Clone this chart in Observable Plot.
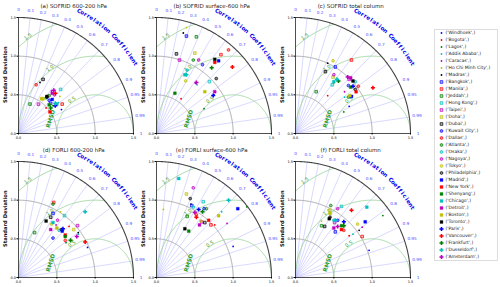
<!DOCTYPE html>
<html><head><meta charset="utf-8">
<script src="https://cdn.jsdelivr.net/npm/d3@7"></script>
<script src="https://cdn.jsdelivr.net/npm/@observablehq/plot@0.6"></script>
<style>
body{margin:0;background:#fff;}
#chart{position:relative;width:500px;height:287px;overflow:hidden;font-family:"DejaVu Sans",sans-serif;background:#fff;}
#chart svg{position:absolute;overflow:visible;}
</style></head><body><div id="chart"></div>
<script>
const cities = ["Windhoek","Bogota","Lagos","Addis Ababa","Caracas","Ho Chi Minh City","Madras",
  "Bangkok","Manila","Jeddah","Hong Kong","Taipei","Doha","Dubai",
  "Kuwait City","Dallas","Atlanta","Osaka","Nagoya","Tokyo","Philadelphia",
  "Madrid","New York","Shenyang","Chicago","Detroit","Boston","Toronto",
  "Paris","Vancouver","Frankfurt","Dusseldorf","Amsterdam"];
const colors = ["#0000ff","#ff0000","#008000","#00bfbf","#bf00bf","#bfbf00","#000000"];
const titles = ["(a) SOFRID 600-200 hPa","(b) SOFRID surface-600 hPa","(c) SOFRID total column",
  "(d) FORLI 600-200 hPa","(e) FORLI surface-600 hPa","(f) FORLI total column"];

const stdA = [.640,.488,.576,.656,.698,.722,.717,.573,.685,.409,.792,.460,.546,.770,.587,.671,.633,.584,.686,.558,.598,.622,.496,.545,.628,.681,.541,.606,.600,.708,.534,.618,.725];
const corrA = [.875,.737,.781,.793,.616,.748,.391,.733,.832,.367,.694,.565,.568,.416,.681,.343,.632,.616,.685,.591,.619,.707,.826,.734,.796,.646,.555,.611,.800,.678,.786,.776,.635];
const stdB = [.901,.552,.698,.823,.826,1.424,1.346,1.319,1.321,1.354,.962,.996,1.154,1.062,1.073,1.432,1.064,.912,1.098,.779,1.055,1.241,1.193,.573,.845,.932,.830,1.224,.888,1.311,1.114,.854,.840];
const corrB = [.832,.580,.888,.644,.617,.274,.260,.296,.636,.384,.717,.301,.433,.245,.559,.656,.451,.438,.501,.488,.739,.653,.637,.419,.438,.815,.759,.621,.833,.755,.646,.457,.619];
const stdC = [.783,.645,.689,.794,.837,.820,1.002,1.005,1.198,.604,.792,.990,.879,.890,.928,1.022,.835,1.028,.910,1.060,.966,.874,.957,.937,.836,1.018,.863,1.012,.967,1.170,.881,.884,.998];
const corrC = [.894,.651,.914,.806,.764,.610,.419,.517,.609,.447,.606,.707,.557,.438,.744,.802,.826,.759,.550,.462,.807,.836,.826,.768,.598,.707,.823,.741,.776,.863,.636,.611,.682];
const stdD = [.981,.933,.766,.960,.838,1.012,.972,.944,1.074,.617,1.0,1.021,.950,.886,.680,.776,1.051,.808,.899,.813,.835,.828,.821,.808,.841,.749,.812,.814,.856,.984,.832,1.216,.927];
const corrD = [.918,.707,.809,.812,.585,.543,.802,.477,.428,.340,.600,.754,.758,.474,.662,.786,.428,.656,.567,.529,.670,.689,.743,.755,.535,.561,.616,.442,.677,.884,.817,.715,.820];
const stdE = [1.077,1.020,1.49,1.202,1.156,.885,1.051,1.038,.983,.885,1.154,.931,1.148,.949,1.085,.963,1.102,1.029,1.255,.932,1.111,1.384,1.005,.732,1.312,.881,1.138,.731,1.038,.937,1.040,1.372,.978];
const corrE = [.928,.745,.790,.707,.796,.102,.428,.443,.722,.452,.528,.634,.340,.664,.572,.540,.590,.467,.382,.622,.396,.766,.677,.574,.221,.636,.712,.506,.530,.555,.577,.685,.511];
const stdF = [1.022,.884,1.393,.936,1.086,.805,1.030,.786,1.019,.751,1.098,.874,.979,.762,.922,.877,1.038,.893,1.046,1.064,.900,1.160,.863,.899,1.301,.812,.944,.878,.957,1.136,.920,.904,.859];
const corrF = [.939,.792,.818,.801,.801,.422,.806,.661,.854,.453,.546,.583,.459,.499,.597,.718,.443,.560,.526,.761,.500,.784,.695,.667,.715,.616,.477,.501,.659,.643,.685,.575,.640];

const stdSets = [stdA, stdB, stdC, stdD, stdE, stdF];
const corrSets = [corrA, corrB, corrC, corrD, corrE, corrF];

const corrTicks = [0.1,0.2,0.3,0.4,0.5,0.6,0.7,0.8,0.9,0.95,0.99];
const corrLabels = [0,0.1,0.2,0.3,0.4,0.5,0.6,0.7,0.8,0.9,0.95,0.99,1];
const stdTicks = [0,0.5,1.0,1.5];
const stdArcs = [0.5,1.0];
const stdMax = 1.5;
const rmsArcs = [0.5,1.0,1.5];
const refStd = 1.0;

const FONT = "DejaVu Sans, sans-serif";
const plusSymbol = {draw(ctx, size){
  const R = Math.sqrt(size)*0.72, w = R*0.38;
  ctx.moveTo(-w,-R); ctx.lineTo(w,-R); ctx.lineTo(w,-w); ctx.lineTo(R,-w); ctx.lineTo(R,w);
  ctx.lineTo(w,w); ctx.lineTo(w,R); ctx.lineTo(-w,R); ctx.lineTo(-w,w); ctx.lineTo(-R,w);
  ctx.lineTo(-R,-w); ctx.lineTo(-w,-w); ctx.closePath();
}};

function markerMarks(data, xo, yo){
  const g = n => data.filter(d => d.group === n);
  return [
    Plot.dot(g(0), {...xo, ...yo, fill:"color", r:0.9}),
    Plot.dot(g(1), {...xo, ...yo, symbol:"square", fill:"color", fillOpacity:0.3, stroke:"color", strokeWidth:0.7, r:1.5}),
    Plot.dot(g(2), {...xo, ...yo, symbol:"circle", fill:"color", fillOpacity:0.45, stroke:"color", strokeWidth:0.7, r:1.4}),
    Plot.dot(g(3), {...xo, ...yo, symbol:"square", fill:"color", stroke:"color", strokeWidth:0.4, r:1.6}),
    Plot.dot(g(4), {...xo, ...yo, symbol:plusSymbol, fill:"color", r:1.6})
  ];
}

function arcPts(cx, R, tMax, keep){
  const out = [];
  for (let t = 0; t <= tMax + 1e-9; t += 0.5) {
    const a = t*Math.PI/180, x = cx + R*Math.cos(a), y = R*Math.sin(a);
    if (keep(x,y)) out.push({x, y, R});
  }
  return out;
}

const stdArcData = stdArcs.flatMap(r => arcPts(0, r, 90, () => true));
const outerArcData = arcPts(0, stdMax, 90, () => true);
const rmsArcData = rmsArcs.flatMap(r => arcPts(refStd, r, 180, (x,y) => x >= -1e-9 && x*x + y*y <= stdMax*stdMax + 1e-6));

const ccText = "Correlation Coefficient";
const ccLetters = Array.from(ccText, (ch,i) => ({ch, a:(63.5 - i*33/(ccText.length-1))*Math.PI/180}));
const rmsAng = 125*Math.PI/180;

function panel(i){
  const std = stdSets[i], corr = corrSets[i];
  const pts = cities.map((c,k) => ({city:c, k, group:Math.floor(k/7), color:colors[k%7],
    x: std[k]*corr[k], y: std[k]*Math.sqrt(1 - corr[k]*corr[k])}));
  return Plot.plot({
    width:140, height:144, marginLeft:18, marginRight:7, marginTop:17, marginBottom:11,
    x:{domain:[0,1.5]}, y:{domain:[0,1.5]}, color:{type:"identity"},
    style:{fontFamily:FONT, background:"transparent", overflow:"visible"},
    marks:[
      Plot.link(corrTicks, {x1:0, y1:0, x2:c => stdMax*c, y2:c => stdMax*Math.sqrt(1-c*c), stroke:"#c0c0ff", strokeWidth:0.6}),
      Plot.line(stdArcData, {x:"x", y:"y", z:"R", stroke:"#a0a0a0", strokeWidth:0.9}),
      Plot.line(rmsArcData, {x:"x", y:"y", z:"R", stroke:"#8fcf8f", strokeWidth:0.8}),
      Plot.line(outerArcData, {x:"x", y:"y", stroke:"#444", strokeWidth:1.1}),
      Plot.ruleX([0], {y1:0, y2:stdMax, stroke:"#222", strokeWidth:0.8}),
      Plot.ruleY([0], {x1:0, x2:stdMax, stroke:"#222", strokeWidth:0.8}),
      Plot.axisX({ticks:stdTicks, tickFormat:d3.format(".1f"), tickSize:1.5, tickPadding:1, fontSize:3.5, label:null}),
      Plot.axisY({ticks:stdTicks, tickFormat:d3.format(".1f"), tickSize:1.5, tickPadding:1, fontSize:3.5, label:null}),
      Plot.text(corrLabels, {x:c => 1.6*c, y:c => 1.6*Math.sqrt(1-c*c), text:c => String(c), fill:"#4b4bff", fontSize:4.2}),
      Plot.text(ccLetters, {x:d => 1.77*Math.cos(d.a), y:d => 1.77*Math.sin(d.a), text:"ch", rotate:d => 90 - d.a*180/Math.PI,
        fill:"#0000ee", fontWeight:"bold", fontSize:5.6}),
      Plot.text(rmsArcs, {x:r => refStd + (r+0.03)*Math.cos(rmsAng), y:r => (r+0.03)*Math.sin(rmsAng), text:r => r.toFixed(1),
        rotate:-35, fill:"#2e9e2e", fontSize:5}),
      Plot.text(["RMSD"], {x:0.42, y:0.19, rotate:-72, fill:"#2e9e2e", fontWeight:"bold", fontSize:5.6}),
      Plot.text(["Standard Deviation"], {x:0, y:0.76, dx:-13, rotate:-90, fontWeight:"bold", fontSize:5.2, fill:"#111"}),
      Plot.text([titles[i]], {x:0.72, y:stdMax, dy:-11.5, fontSize:5.5, fill:"#222"}),
      ...markerMarks(pts, {x:"x"}, {y:"y"})
    ]
  });
}

const root = document.getElementById("chart");
const lefts = [0, 137.5, 277], tops = [0, 144];
for (let i = 0; i < 6; i++) {
  const svg = panel(i);
  svg.style.left = lefts[i%3] + "px";
  svg.style.top = tops[Math.floor(i/3)] + "px";
  root.appendChild(svg);
}

const legPts = cities.map((c,k) => ({city:c, k, group:Math.floor(k/7), color:colors[k%7]}));
const leg = Plot.plot({
  width:63, height:231, margin:0,
  x:{domain:[0,63], range:[0,63], axis:null}, y:{domain:[-0.5,32.5], range:[0,231], axis:null},
  color:{type:"identity"},
  style:{fontFamily:FONT, background:"transparent", overflow:"visible"},
  marks:[
    Plot.frame({stroke:"#d4d4d4", fill:"white", strokeWidth:0.8}),
    ...markerMarks(legPts, {x:() => 7}, {y:"k"}),
    Plot.text(legPts, {x:() => 11, y:"k", text:d => `('${d.city}',)`, textAnchor:"start", fontSize:4.5, fill:"#222"})
  ]
});
leg.style.left = "434px"; leg.style.top = "29px";
root.appendChild(leg);
</script></body></html>
